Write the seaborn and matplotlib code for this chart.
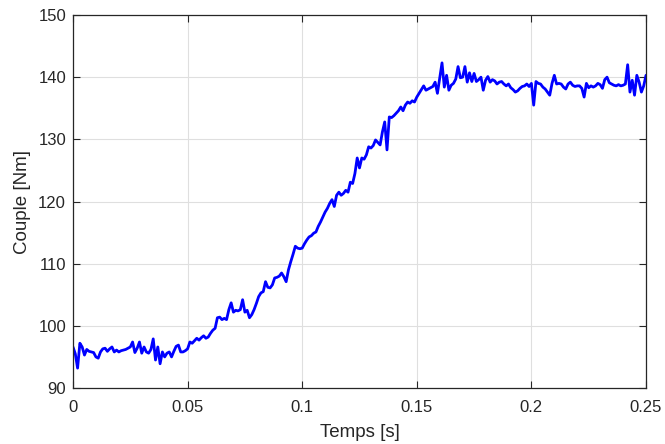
import numpy as np
import pandas as pd
import matplotlib
matplotlib.use("Agg")
import matplotlib.pyplot as plt
import seaborn as sns

# Time axis (s), sampled every 1 ms
time_s = [i / 1000 for i in range(251)]

torque_0 = [96.6, 95.5, 93.2, 97.2, 96.6, 95.3, 96.2, 95.9, 95.8, 95.7,
            95.0, 94.8, 95.8, 96.3, 96.4, 95.9, 96.3, 96.6, 95.8, 96.1,
            95.8, 96.0, 96.1, 96.2, 96.4, 96.6, 97.4, 95.7, 96.4, 97.4,
            95.6, 96.6, 95.8, 95.6, 96.2, 97.9, 94.5, 96.6, 93.9, 95.8,
            95.0, 95.6, 95.8, 95.0, 95.9, 96.7, 96.9, 95.8, 95.8, 96.0]
torque_1 = [96.3, 97.4, 97.2, 97.6, 98.0, 97.7, 98.1, 98.4, 98.0, 98.2,
            98.8, 99.3, 99.6, 101.3, 101.4, 101.0, 101.2, 101.0, 102.6, 103.7,
            102.2, 102.5, 102.4, 102.6, 104.2, 102.2, 102.5, 101.3, 101.8, 102.6,
            103.6, 104.7, 105.3, 105.5, 107.1, 106.2, 106.1, 106.6, 107.7, 107.8,
            108.0, 108.5, 107.9, 107.1, 109.0, 110.3, 111.5, 112.8, 112.5, 112.4]
torque_2 = [112.5, 113.2, 113.8, 114.3, 114.5, 114.9, 115.1, 116.0, 116.7, 117.5,
            118.3, 118.9, 119.7, 120.3, 119.2, 121.0, 121.5, 121.0, 121.3, 121.8,
            121.5, 123.1, 122.9, 124.5, 127.0, 125.4, 127.0, 126.8, 127.5, 128.8,
            128.6, 129.0, 129.9, 129.5, 129.1, 131.2, 132.8, 128.3, 133.6, 133.5,
            133.8, 134.2, 134.6, 135.2, 134.6, 135.5, 136.0, 135.8, 136.2, 136.0]
torque_3 = [136.8, 137.4, 138.0, 138.6, 137.9, 138.1, 138.3, 138.5, 139.2, 137.4,
            139.8, 142.3, 138.4, 140.3, 137.9, 138.7, 139.0, 139.7, 141.7, 139.9,
            140.0, 141.7, 139.2, 140.7, 139.3, 140.6, 139.3, 139.6, 140.0, 137.9,
            139.5, 140.1, 139.2, 139.6, 139.4, 138.9, 139.2, 139.3, 138.9, 138.6,
            138.9, 138.3, 138.0, 137.6, 137.8, 138.2, 138.5, 138.6, 138.9, 138.5]
torque_4 = [139.0, 135.5, 139.3, 139.0, 138.9, 138.4, 138.1, 137.6, 137.1, 139.0,
            140.3, 138.9, 139.0, 138.9, 138.4, 138.1, 138.9, 139.2, 138.7, 138.5,
            138.6, 138.6, 138.2, 136.8, 139.0, 138.3, 138.6, 138.4, 138.6, 139.0,
            138.8, 138.2, 139.6, 140.0, 139.1, 138.9, 138.7, 138.6, 138.8, 138.6,
            138.7, 138.9, 142.0, 137.6, 139.5, 137.1, 140.3, 139.2, 137.6, 138.6,
            140.3]
torque_nm = torque_0 + torque_1 + torque_2 + torque_3 + torque_4

x_ticks = [0, 0.05, 0.1, 0.15, 0.2, 0.25]
x_tick_labels = ["0", "0.05", "0.1", "0.15", "0.2", "0.25"]
y_ticks = [90, 100, 110, 120, 130, 140, 150]

df = pd.DataFrame({"Temps": time_s, "Couple": torque_nm})

sns.set_theme(style="ticks")
plt.rcParams["font.family"] = ["Liberation Sans", "DejaVu Sans"]

fig = plt.figure(figsize=(6.65, 4.44), dpi=100)
ax = fig.add_axes([73 / 665, 1 - 388 / 444, (646 - 73) / 665, (388 - 15) / 444])

sns.lineplot(data=df, x="Temps", y="Couple", ax=ax, color="#0000ff",
             linewidth=2.0, estimator=None, sort=False)

ax.set_xlim(0, 0.25)
ax.set_ylim(90, 150)
ax.set_xticks(x_ticks)
ax.set_xticklabels(x_tick_labels)
ax.set_yticks(y_ticks)
ax.grid(True, color="#dfdfdf", linewidth=0.8)
ax.set_axisbelow(True)

for side in ["left", "right", "top", "bottom"]:
    ax.spines[side].set_visible(True)
    ax.spines[side].set_color("#262626")
    ax.spines[side].set_linewidth(0.9)

ax.tick_params(direction="in", length=5, width=0.8, colors="#262626",
               labelsize=12, top=True, right=True, pad=5)
ax.tick_params(axis="x", pad=9)
for lbl in ax.get_xticklabels() + ax.get_yticklabels():
    lbl.set_color("#262626")

ax.set_xlabel("Temps [s]", fontsize=13.5, color="#262626", labelpad=6)
ax.set_ylabel("Couple [Nm]", fontsize=13.5, color="#262626", labelpad=5)

fig.savefig("out.png", dpi=100)
